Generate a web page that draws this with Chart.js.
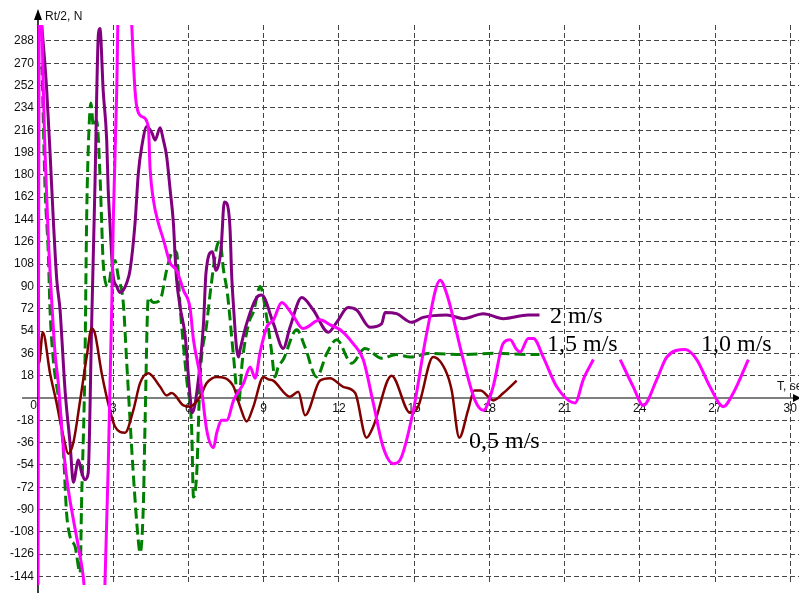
<!DOCTYPE html>
<html>
<head>
<meta charset="utf-8">
<script src="https://cdn.jsdelivr.net/npm/chart.js@4"></script>
<style>
  body { margin: 0; background: #fff; }
  canvas { display: block; }
</style>
</head>
<body>
<canvas id="chart" width="799" height="593"></canvas>
<script>
// Time, sec  /  Rt/2, N

// 0,5 m/s
const tRed = [0, 0.04, 0.19, 0.48, 0.74, 1.01, 1.21, 1.41, 1.68, 1.94, 2.14, 2.27, 2.54, 2.87, 3.07, 3.47, 3.8, 4.07, 4.4, 4.87, 5.13, 5.33, 5.8, 6.06, 6.46, 6.73, 7.13, 7.46, 7.8, 8.06, 8.32, 8.59, 8.99, 9.19, 9.38, 10.05, 10.38, 10.65, 11.25, 11.65, 12.17, 12.65, 13.1, 13.37, 14.1, 14.84, 15.16, 15.76, 16.3, 16.5, 16.8, 17.15, 17.4, 17.65, 17.96, 18.16, 18.56, 19.09];
const vRed = [330, 28, 53, 20, -4, -31, -45, -36, -2, 33, 56, 52, 20, -10, -23, -28, -10, 12, 20, 9, 2, 4, -6, -7, 1, 12, 17, 16, 9, -7, -19, -7, 17, 15, 14, 1, 5, -14, 14, 16, 9, 4, -32, -23, 18, -12, -7, 33, 20, 6, -32, -10, 6, 6, 1, -2, 4, 14];

// 2 m/s
const tPurple = [0.1, 0.15, 0.34, 0.48, 0.61, 0.75, 0.88, 0.94, 1.08, 1.28, 1.41, 1.61, 1.74, 1.87, 2.0, 2.14, 2.27, 2.41, 2.47, 2.6, 2.74, 2.8, 2.87, 2.94, 3.0, 3.14, 3.27, 3.4, 3.54, 3.67, 3.87, 4.0, 4.14, 4.34, 4.54, 4.67, 4.87, 5.0, 5.13, 5.27, 5.4, 5.47, 5.53, 5.67, 5.87, 6.05, 6.15, 6.33, 6.6, 6.7, 6.95, 7.1, 7.3, 7.43, 7.53, 7.66, 7.72, 7.8, 7.92, 8.0, 8.06, 8.32, 8.72, 8.92, 9.39, 9.78, 10.05, 10.52, 10.98, 11.58, 11.91, 12.37, 12.71, 13.24, 13.71, 13.84, 14.3, 14.9, 15.36, 16.3, 16.96, 17.76, 18.56, 19.55, 20.0];
const vPurple = [310, 300, 251, 198, 144, 95, 71, 52, 6, -37, -68, -50, -60, -66, -61, 60, 170, 294, 298, 248, 208, 168, 141, 114, 98, 90, 85, 87, 93, 103, 141, 181, 203, 219, 214, 208, 218, 208, 195, 168, 141, 114, 95, 73, 50, 5, -12, 4, 60, 101, 118, 103, 120, 158, 157, 136, 101, 73, 40, 33, 39, 60, 81, 83, 60, 40, 57, 81, 71, 53, 61, 73, 71, 57, 60, 69, 68, 61, 65, 67, 64, 68, 64, 67, 67];

// 1,5 m/s
const tGreen = [0.12, 0.15, 0.21, 0.28, 0.41, 0.48, 0.6, 0.88, 1.01, 1.14, 1.28, 1.48, 1.68, 1.74, 1.87, 1.94, 2.0, 2.11, 2.21, 2.34, 2.47, 2.54, 2.6, 2.8, 2.94, 3.07, 3.2, 3.4, 3.54, 3.8, 4.0, 4.07, 4.2, 4.27, 4.4, 4.6, 4.87, 5.13, 5.4, 5.53, 5.67, 5.93, 6.13, 6.2, 6.33, 6.46, 6.73, 6.9, 7.13, 7.26, 7.4, 7.55, 7.8, 8.0, 8.15, 8.4, 8.6, 8.86, 9.12, 9.3, 9.45, 9.58, 9.78, 10.32, 10.65, 11.11, 11.52, 11.91, 12.51, 13.04, 13.71, 14.3, 14.84, 15.64, 16.96, 18.3, 19.55, 20.0];
const vGreen = [265, 267, 224, 170, 117, 71, 33, -10, -42, -93, -112, -120, -141, -82, 25, 144, 198, 238, 219, 224, 181, 141, 109, 90, 106, 111, 98, 77, 28, -61, -115, -125, -88, -20, 81, 77, 79, 103, 119, 117, 73, 15, -26, -80, -61, 15, 60, 90, 122, 126, 103, 85, 33, -4, 30, 60, 70, 90, 65, 40, 17, 25, 31, 55, 41, 17, 36, 47, 28, 40, 32, 35, 33, 36, 35, 36, 35, 35];

// 1,0 m/s
const tMagenta = [0, 0.05, 0.15, 0.21, 0.28, 0.41, 0.55, 0.68, 0.81, 1.01, 1.21, 1.41, 1.61, 1.81, 1.9, 2.63, 2.67, 2.8, 2.94, 3.0, 3.14, 3.2, 3.7, 3.74, 3.8, 3.87, 3.94, 4.14, 4.4, 4.47, 4.6, 4.8, 5.0, 5.27, 5.53, 5.8, 6.06, 6.2, 6.46, 6.73, 7.0, 7.13, 7.33, 7.53, 7.8, 8.2, 8.46, 8.66, 8.86, 9.12, 9.39, 9.72, 10.12, 10.57, 11.25, 11.65, 12.05, 12.56, 12.97, 13.37, 13.77, 14.17, 14.44, 14.97, 15.5, 16.04, 16.3, 16.96, 17.43, 17.76, 18.15, 18.55, 18.83, 19.09, 19.23, 19.55, 19.76, 20.15, 20.69, 21.42, 21.75, 22.15, 22.7, 23.22, 23.74, 24.14, 24.68, 25.08, 25.81, 26.27, 26.8, 27.33, 27.73, 28.33];
const vMagenta = [-165, 310, 300, 251, 198, 130, 77, 36, 12, -40, -74, -98, -120, -145, -165, -165, -150, -56, 73, 141, 248, 310, 310, 300, 273, 248, 235, 227, 219, 185, 160, 141, 128, 109, 103, 87, 73, 47, 18, -26, -40, -28, -18, -18, -2, 12, 25, 16, 37, 57, 63, 77, 68, 56, 63, 59, 55, 44, 31, -4, -40, -53, -50, -10, 52, 95, 84, 31, -2, -10, 9, 44, 47, 39, 37, 48, 48, 33, 9, -4, 15, 31, null, 31, 9, -6, 15, 33, 39, 31, 9, -7, 4, 31];

// grid / tick values
const xTicks = [3, 6, 9, 12, 15, 18, 21, 24, 27, 30];
const yTicks = [-144, -126, -108, -90, -72, -54, -36, -18, 18, 36, 54, 72, 90, 108, 126, 144, 162, 180, 198, 216, 234, 252, 270, 288];

// series labels
const seriesLabels = ['2 m/s', '1,5 m/s', '1,0 m/s', '0,5 m/s'];

function toPoints(t, v) {
    return t.map((x, i) => ({ x: x, y: v[i] }));
}

const sansFont = '12px "Liberation Sans", Arial, sans-serif';

// axes, arrows and tick labels (under the curves), speed labels (over them)
const axesPlugin = {
    id: 'axesPlugin',
    beforeDatasetsDraw(chart) {
        const ctx = chart.ctx;
        const xs = chart.scales.x;
        const ys = chart.scales.y;
        const x0 = xs.getPixelForValue(0);
        const y0 = ys.getPixelForValue(0);
        ctx.save();
        // x axis
        ctx.strokeStyle = '#555';
        ctx.lineWidth = 1.5;
        ctx.beginPath();
        ctx.moveTo(22, y0);
        ctx.lineTo(799, y0);
        ctx.stroke();
        ctx.fillStyle = '#000';
        ctx.beginPath();
        ctx.moveTo(793, y0 - 4);
        ctx.lineTo(801, y0);
        ctx.lineTo(793, y0 + 4);
        ctx.closePath();
        ctx.fill();
        // y axis
        ctx.strokeStyle = '#000';
        ctx.lineWidth = 1.5;
        ctx.beginPath();
        ctx.moveTo(x0, 18);
        ctx.lineTo(x0, 593);
        ctx.stroke();
        ctx.beginPath();
        ctx.moveTo(x0, 9);
        ctx.lineTo(x0 + 4, 20);
        ctx.lineTo(x0 - 4, 20);
        ctx.closePath();
        ctx.fill();

        ctx.font = sansFont;
        ctx.fillStyle = '#111';
        ctx.textBaseline = 'middle';
        ctx.textAlign = 'right';
        yTicks.forEach(v => ctx.fillText(String(v), x0 - 4, ys.getPixelForValue(v)));
        ctx.fillText('0', x0 - 1, y0 + 8);
        ctx.textAlign = 'center';
        xTicks.forEach(v => ctx.fillText(String(v), xs.getPixelForValue(v), y0 + 11));
        ctx.textAlign = 'left';
        ctx.fillText('Rt/2, N', x0 + 7, 17);
        ctx.fillText('T, sec', 777, y0 - 11);
        ctx.restore();
    },
    afterDatasetsDraw(chart) {
        const ctx = chart.ctx;
        ctx.save();
        ctx.font = '24px "Liberation Serif", "Times New Roman", serif';
        ctx.fillStyle = '#000';
        ctx.textBaseline = 'alphabetic';
        ctx.textAlign = 'left';
        ctx.fillText(seriesLabels[0], 550, 323);
        ctx.fillText(seriesLabels[1], 547, 351);
        ctx.fillText(seriesLabels[2], 701, 351);
        ctx.fillText(seriesLabels[3], 469, 448);
        ctx.restore();
    }
};

const gridOpts = { color: '#444', lineWidth: 1, drawTicks: false };

new Chart(document.getElementById('chart'), {
    type: 'line',
    data: {
        datasets: [
            { label: '1,0 m/s', data: toPoints(tMagenta, vMagenta), borderColor: '#ff00ff', borderWidth: 3, order: 1 },
            { label: '0,5 m/s', data: toPoints(tRed, vRed), borderColor: '#800000', borderWidth: 2.5, order: 2 },
            { label: '2 m/s', data: toPoints(tPurple, vPurple), borderColor: '#800080', borderWidth: 3, order: 3 },
            { label: '1,5 m/s', data: toPoints(tGreen, vGreen), borderColor: '#008000', borderWidth: 3, borderDash: [11, 5], order: 4 }
        ]
    },
    options: {
        responsive: false,
        animation: false,
        devicePixelRatio: 1,
        layout: { padding: { left: 38, top: 25, right: 0, bottom: 8 } },
        plugins: { legend: { display: false }, tooltip: { enabled: false } },
        elements: {
            point: { radius: 0 },
            line: { cubicInterpolationMode: 'monotone', fill: false }
        },
        datasets: { line: { clip: 0, spanGaps: false } },
        scales: {
            x: {
                type: 'linear',
                min: 0,
                max: 30.35,
                afterBuildTicks: s => { s.ticks = xTicks.map(v => ({ value: v })); },
                ticks: { display: false },
                grid: gridOpts,
                border: { display: false, dash: [5, 3] }
            },
            y: {
                type: 'linear',
                min: -150.9,
                max: 300.9,
                afterBuildTicks: s => { s.ticks = yTicks.map(v => ({ value: v })); },
                ticks: { display: false },
                grid: gridOpts,
                border: { display: false, dash: [5, 3] }
            }
        }
    },
    plugins: [axesPlugin]
});
</script>
</body>
</html>
